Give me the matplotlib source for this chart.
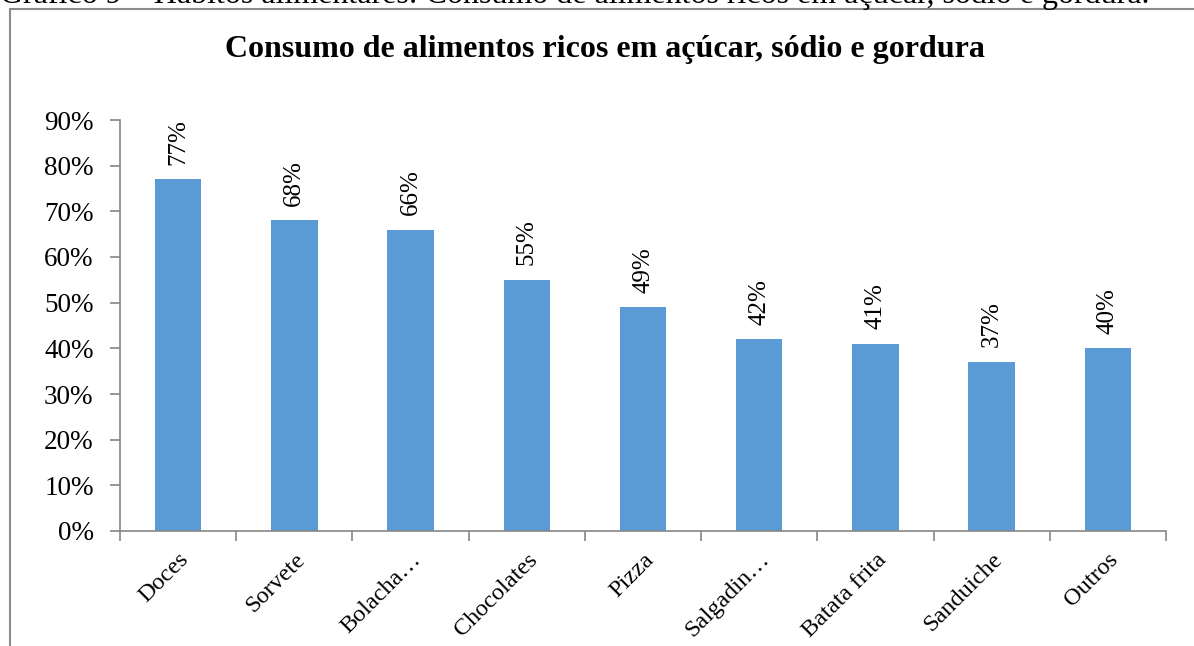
import numpy as np
import matplotlib
matplotlib.use("Agg")
import matplotlib.pyplot as plt
from matplotlib.patches import Rectangle
from matplotlib.ticker import FuncFormatter, MultipleLocator

plt.rcParams['font.family'] = ['Liberation Serif', 'DejaVu Serif']

categorias = ["Doces", "Sorvete", "Bolacha…", "Chocolates", "Pizza",
              "Salgadin…", "Batata frita", "Sanduiche", "Outros"]
valores = [77, 68, 66, 55, 49, 42, 41, 37, 40]
titulo = "Consumo de alimentos ricos em açúcar, sódio e gordura"
legenda_topo = "Gráfico 9 – Hábitos alimentares: Consumo de alimentos ricos em açúcar, sódio e gordura."

W, H = 1194, 646
fig = plt.figure(figsize=(W / 100, H / 100), dpi=100)
ax = fig.add_axes([120 / W, 1 - 531 / H, (1166 - 120) / W, (531 - 120) / H])

cinza = "#868686"
x = np.arange(len(categorias))
ax.bar(x, np.array(valores) / 100, width=0.4, color="#5B9BD5", zorder=2)

# rótulos de dados (verticais)
for xi, v in zip(x, valores):
    ax.text(xi, v / 100 + 0.032, f"{v}%", rotation=90, ha="center", va="bottom",
            fontsize=18)

ax.set_xlim(-0.5, len(categorias) - 0.5)
ax.set_ylim(0, 0.9)
ax.yaxis.set_major_locator(MultipleLocator(0.1))
ax.yaxis.set_major_formatter(FuncFormatter(lambda v, p: f"{v * 100:.0f}%"))

# marcas do eixo x entre categorias
ax.set_xticks(np.arange(-0.5, len(categorias), 1.0))
ax.set_xticklabels([])
ax.set_xticks(x, minor=True)
ax.set_xticklabels(categorias, minor=True, rotation=45, ha="right",
                   rotation_mode="anchor", fontsize=17.5)
ax.tick_params(axis="x", which="minor", length=0, pad=13)
ax.tick_params(axis="x", which="major", length=7, color=cinza, width=1.2)
ax.tick_params(axis="y", length=7, color=cinza, width=1.2, labelsize=19.5, pad=12)

for s in ["top", "right"]:
    ax.spines[s].set_visible(False)
for s in ["left", "bottom"]:
    ax.spines[s].set_color(cinza)
    ax.spines[s].set_linewidth(1.2)

fig.text(605 / W, 1 - 50 / H, titulo, ha="center", va="center",
         fontsize=23, fontweight="bold")

# moldura do gráfico e legenda cortada no topo
fig.patches.append(Rectangle((10 / W, -0.1), 1.2, 1 - 9.5 / H + 0.1,
                             transform=fig.transFigure, fill=False,
                             edgecolor="#8c8c8c", linewidth=1.5))
fig.text(0 / W, 1 - 3 / H, legenda_topo, ha="left", va="baseline", fontsize=23)

fig.savefig("out.png", dpi=100)
